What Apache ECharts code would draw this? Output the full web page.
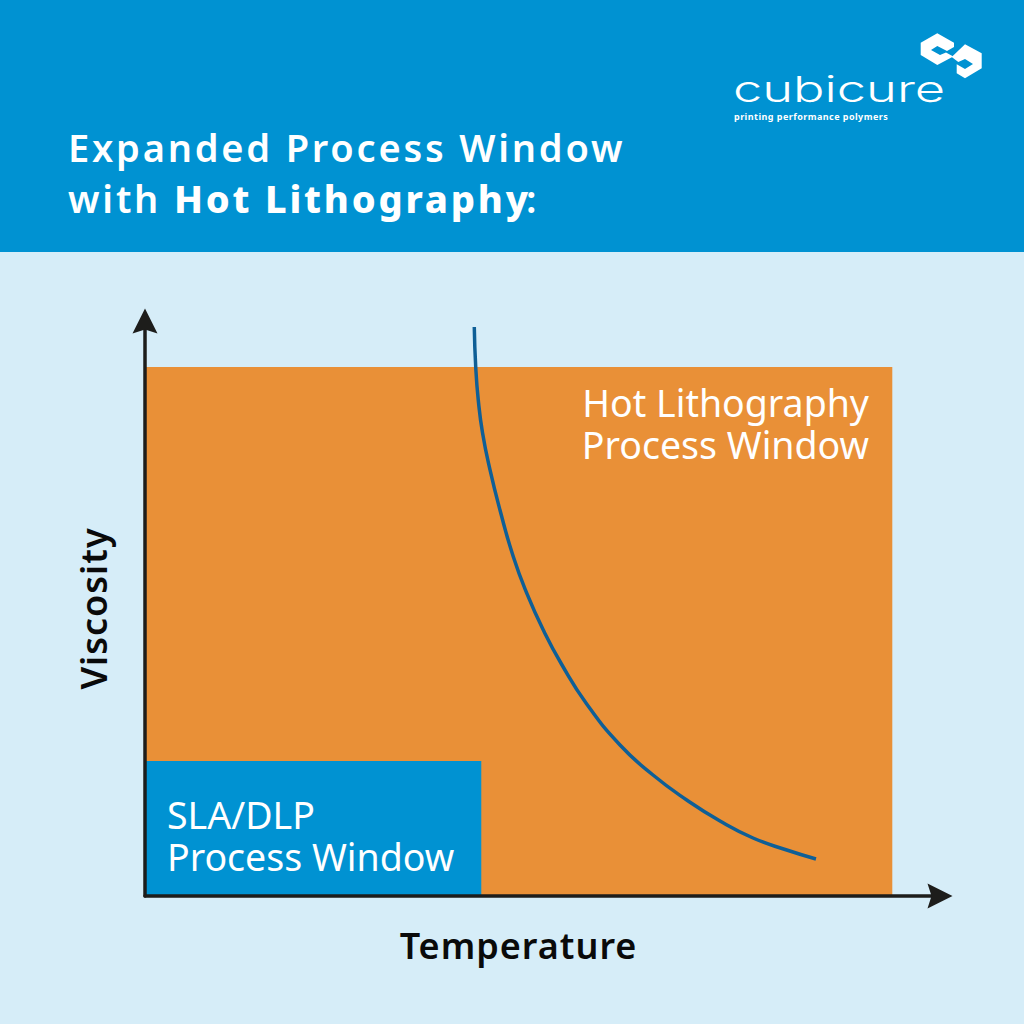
<!DOCTYPE html>
<html>
<head>
<meta charset="utf-8">
<style>
html,body{margin:0;padding:0;background:#d6edf8}
#main{width:1024px;height:1024px}
/* the svg renderer keeps the font string on the text node, so spacing can hang off it */
#main text[style*="38px"]{letter-spacing:2.8px}
#main text[style*="36px"]{letter-spacing:1px}
#main text[style*="9px"]{letter-spacing:0.45px}
</style>
<script src="https://cdn.jsdelivr.net/npm/echarts@6/dist/echarts.min.js"></script>
</head>
<body>
<div id="main"></div>
<script>
var FONT = '"Noto Sans", "Open Sans", sans-serif';

// axis units are 0-100 on both axes, no scale is printed on the picture
var xName = 'Temperature';
var yName = 'Viscosity';
var titleLine1 = 'Expanded Process Window';
var titleLine2a = 'with';
var titleLine2b = 'Hot Lithography';
var titleLine2c = ':';
var logoName = 'cubicure';
var logoTag = 'printing performance polymers';

// [x end, y end] of each window, both start from the origin
var hotWindow = [94, 92];
var slaWindow = [42.3, 23.5];
var hotLabel = 'Hot Lithography\nProcess Window';
var slaLabel = 'SLA/DLP\nProcess Window';

var curveX = [41.42, 41.6, 41.92, 42.46, 43.4, 44.65, 46.33, 48.01, 50.1, 52.42, 55.56, 59.75, 63.9, 68.14, 72.33, 76.48, 80.72, 84.4];
var curveY = [98.96, 92, 86.26, 80.52, 74.09, 67.13, 59, 52.7, 46.26, 40.26, 33.39, 26.26, 21.04, 16.7, 13.04, 10.09, 8, 6.43];

var curve = [];
for (var i = 0; i < curveX.length; i++) {
    curve.push([curveX[i], curveY[i]]);
}

function windowSeries(end, color, z) {
    return {
        type: 'custom',
        z: z,
        silent: true,
        data: [[0, 0, end[0], end[1]]],
        renderItem: function (params, api) {
            var p0 = api.coord([api.value(0), api.value(1)]);
            var p1 = api.coord([api.value(2), api.value(3)]);
            return {
                type: 'rect',
                shape: { x: p0[0], y: p1[1], width: p1[0] - p0[0], height: p0[1] - p1[1] },
                style: { fill: color }
            };
        }
    };
}

var arrow = 'path://M50 0L100 100L50 84L0 100Z';

var myChart = echarts.init(document.getElementById('main'), null, { renderer: 'svg' });
myChart.setOption({
    backgroundColor: '#d6edf8',
    animation: false,
    grid: { left: 145, right: 84, top: 321, bottom: 128 },
    xAxis: {
        type: 'value', min: 0, max: 100, z: 6,
        name: xName, nameLocation: 'middle', nameGap: 31,
        nameTextStyle: { fontFamily: FONT, fontSize: 36, fontWeight: 600, color: '#0a0a0a', padding: [0, 48, 0, 0] },
        axisLine: { lineStyle: { color: '#1d1d1b', width: 3.5 }, symbol: ['none', arrow], symbolSize: [28, 25] },
        axisTick: { show: false }, axisLabel: { show: false }, splitLine: { show: false }
    },
    yAxis: {
        type: 'value', min: 0, max: 100, z: 6,
        name: yName, nameLocation: 'middle', nameGap: 34,
        nameTextStyle: { fontFamily: FONT, fontSize: 36, fontWeight: 600, color: '#0a0a0a' },
        axisLine: { lineStyle: { color: '#1d1d1b', width: 3.5 }, symbol: ['none', arrow], symbolSize: [28, 25] },
        axisTick: { show: false }, axisLabel: { show: false }, splitLine: { show: false }
    },
    series: [
        windowSeries(hotWindow, '#e99037', 1),
        windowSeries(slaWindow, '#0092d2', 2),
        {
            type: 'line', z: 3, smooth: 0.5, symbol: 'none', silent: true,
            data: curve,
            lineStyle: { color: '#0f5f96', width: 3.5, cap: 'butt' }
        }
    ],
    graphic: [
        { type: 'rect', z: -1, shape: { x: 0, y: 0, width: 1024, height: 252 }, style: { fill: '#0092d2' } },
        { type: 'text', x: 68, y: 128, style: { text: titleLine1, fill: '#fff', font: '600 38px ' + FONT } },
        { type: 'text', x: 68, y: 179, style: { text: titleLine2a, fill: '#fff', font: '600 38px ' + FONT } },
        { type: 'text', x: 174, y: 179, style: { text: titleLine2b, fill: '#fff', font: '800 38px ' + FONT } },
        { type: 'text', x: 526, y: 179, style: { text: titleLine2c, fill: '#fff', font: '600 38px ' + FONT } },
        { type: 'text', z: 10, x: 869, y: 381, style: { text: hotLabel, fill: '#fff', font: '400 37.5px ' + FONT, align: 'right', lineHeight: 42 } },
        { type: 'text', z: 10, x: 167, y: 793, style: { text: slaLabel, fill: '#fff', font: '400 37.5px ' + FONT, lineHeight: 42 } },
        // logo
        { type: 'polygon', shape: { points: [[920.7,42.7],[937.3,33.3],[954,42.7],[954,47],[947,51],[937.3,46],[931,50],[940,55],[946,52.5],[953.3,56.5],[937.3,65],[920.7,55]] }, style: { fill: '#fff' } },
        { type: 'polygon', shape: { points: [[965,44.3],[981.7,53.3],[981.7,68.3],[965,78.3],[956.7,73.3],[956.7,64.3],[965,69],[973,64],[965,59],[958.3,62],[951.7,57]] }, style: { fill: '#fff' } },
        { type: 'text', x: 733, y: 71, scaleX: 1.475, style: { text: logoName, fill: '#fff', font: '300 35.5px Inter, ' + FONT } },
        { type: 'text', x: 734, y: 112, style: { text: logoTag, fill: '#fff', font: '700 9px ' + FONT } }
    ]
});
</script>
</body>
</html>
